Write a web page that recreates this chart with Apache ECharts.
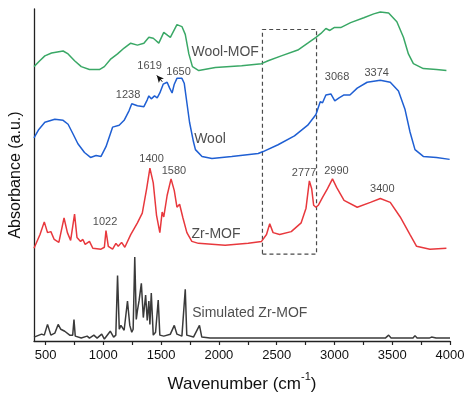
<!DOCTYPE html>
<html>
<head>
<meta charset="utf-8">
<script src="https://cdn.jsdelivr.net/npm/echarts@6/dist/echarts.min.js"></script>
<style>
  html, body { margin:0; padding:0; background:#fff; }
  #chart { width:473px; height:398px; }
</style>
</head>
<body>
<div id="chart"></div>
<script>
// spectra, stacked with offsets (wavenumber, absorbance a.u.)
const woolMof = [[400,281],[409,282],[450,287],[494,292],[552,295],[652,297],[695,294],[751,287],[809,281],[880,278],[966,278],[1009,281],[1066,289],[1123,294],[1180,300],[1237,305],[1295,303],[1351,305],[1394,311],[1432,310],[1452,308],[1480,305],[1523,316],[1557,313],[1580,311],[1637,324],[1680,322],[1709,314],[1740,294],[1771,281],[1826,277],[1969,280],[2197,282],[2369,284],[2426,287],[2540,292],[2683,298],[2769,305],[2840,311],[2883,315],[2926,320],[2960,318],[2997,321],[3054,321],[3140,326],[3254,331],[3340,335],[3397,337],[3469,336],[3540,327],[3597,311],[3640,294],[3683,284],[3769,279],[3883,278],[3969,277]];
const wool = [[400,208],[409,209],[438,216],[494,224],[580,227],[652,226],[695,222],[738,212],[780,202],[837,193],[889,188],[937,190],[980,189],[1023,199],[1080,219],[1137,221],[1180,226],[1223,236],[1246,243],[1295,241],[1351,240],[1380,247],[1394,251],[1415,248],[1443,251],[1466,249],[1489,254],[1518,263],[1552,265],[1574,259],[1595,254],[1614,263],[1637,269],[1680,269],[1700,264],[1723,244],[1746,224],[1780,204],[1797,196],[1854,189],[1940,187],[2111,189],[2340,192],[2383,194],[2512,201],[2654,210],[2769,221],[2840,232],[2877,245],[2897,244],[2926,252],[2969,253],[3003,246],[3040,249],[3083,252],[3134,252],[3197,259],[3283,265],[3397,267],[3483,265],[3554,256],[3611,237],[3654,214],[3697,196],[3769,189],[3883,188],[3997,186]];
const zrMof = [[400,95],[409,96],[452,109],[489,122],[517,111],[546,112],[575,104],[615,101],[660,126],[689,111],[717,103],[751,130],[772,106],[803,102],[823,104],[843,99],[880,102],[909,95],[980,94],[1009,96],[1023,113],[1043,97],[1080,94],[1109,100],[1129,97],[1158,101],[1186,96],[1237,109],[1295,121],[1337,131],[1375,156],[1403,177],[1432,162],[1460,129],[1489,111],[1509,132],[1523,127],[1552,149],[1586,166],[1614,154],[1637,137],[1660,140],[1689,126],[1723,111],[1766,102],[1823,100],[2054,98],[2254,100],[2369,102],[2412,109],[2440,120],[2469,111],[2526,109],[2626,112],[2712,121],[2754,136],[2783,164],[2803,156],[2820,139],[2840,137],[2860,139],[2897,147],[2940,156],[2983,166],[3020,157],[3083,144],[3197,137],[3311,142],[3397,146],[3483,142],[3569,127],[3654,109],[3711,97],[3826,94],[3969,95]];
const simulated = [[400,4],[409,4],[466,7],[489,6],[517,17],[546,6],[580,8],[609,17],[632,12],[666,10],[709,6],[735,6],[746,22],[757,5],[766,6],[809,3],[860,5],[880,3],[918,6],[946,3],[986,7],[1009,2],[1060,10],[1089,4],[1108,6],[1123,67],[1138,12],[1152,16],[1180,11],[1209,41],[1229,16],[1246,9],[1258,12],[1272,86],[1285,22],[1295,31],[1309,41],[1329,59],[1346,24],[1366,47],[1380,21],[1394,41],[1403,17],[1415,49],[1432,6],[1452,9],[1475,42],[1489,6],[1523,5],[1580,7],[1614,16],[1637,7],[1680,5],[1695,7],[1709,53],[1722,6],[1780,4],[1832,16],[1852,4],[1923,3],[2500,3],[3440,3],[3469,6],[3490,3],[3680,3],[3697,5.5],[3715,3],[3820,3],[3840,4],[3860,3.5],[3880,3],[4000,3]];

const seriesNames = ['Wool-MOF','Wool','Zr-MOF','Simulated Zr-MOF'];
const nameSpots = [[1763,296],[1786,207],[1763,109],[1769,29]];
const peakTexts = ['1619','1650','1238','3068','3374','1400','1580','1022','2777','2990','3400'];
const peakSpots = [[1400,282],[1651,276],[1214,252],[3023,270],[3366,274],[1417,186],[1611,174],[1015,122],[2737,172],[3017,174],[3414,156]];
const tickValues = [500,750,1000,1250,1500,1750,2000,2250,2500,2750,3000,3250,3500,3750,4000];
const labelValues = [500,1000,1500,2000,2500,3000,3500,4000];
const boxCorners = [[2377,89],[2845,319]];
const arrowEnds = [[1510,265.5],[1463,272]];

const font = "'Liberation Sans', Arial, sans-serif";
const colors = ['#3aa866','#1f5fd3','#e8383d','#3a3a3a'];

const chart = echarts.init(document.getElementById('chart'));

const lineOf = (name, data, color) => ({
    type:'line',
    name:name,
    data:data,
    symbol:'none',
    silent:true,
    lineStyle:{ color:color, width:1.5 },
    z:3
});

const seriesData = [
    lineOf('Wool-MOF', woolMof, colors[0]),
    lineOf('Wool', wool, colors[1]),
    lineOf('Zr-MOF', zrMof, colors[2]),
    lineOf('Simulated Zr-MOF', simulated, colors[3])
];
// 1619 arrow
seriesData[1].markLine = {
    silent:true,
    symbol:['none','arrow'],
    symbolSize:[5,7],
    label:{ show:false },
    lineStyle:{ color:'#111', width:1, type:'solid' },
    data:[[ { coord:arrowEnds[0] }, { coord:arrowEnds[1] } ]]
};
// dashed box
seriesData[2].markArea = {
    silent:true,
    itemStyle:{ color:'rgba(0,0,0,0)', borderColor:'#4a4a4a', borderWidth:1.2, borderType:[4,3] },
    data:[[ { coord:boxCorners[0] }, { coord:boxCorners[1] } ]]
};
seriesData.push({
    type:'scatter',
    silent:true,
    symbolSize:0,
    data:nameSpots.map((p,i)=>({ value:p, name:seriesNames[i] })),
    label:{ show:true, position:'right', distance:0, formatter:'{b}', color:'#222', fontSize:14, fontFamily:font },
    z:5
});
seriesData.push({
    type:'scatter',
    silent:true,
    symbolSize:0,
    data:peakSpots.map((p,i)=>({ value:p, name:peakTexts[i] })),
    label:{ show:true, position:'inside', formatter:'{b}', color:'#222', fontSize:11, fontFamily:font },
    z:5
});

const option = {
    animation:false,
    grid:{ left:30, right:23, top:9, bottom:49 },
    xAxis:{
        type:'value',
        min:400,
        max:4000,
        name:'{a|Wavenumber (cm}{s|-1}{a|)}',
        nameLocation:'middle',
        nameGap:30,
        nameTextStyle:{
            rich:{
                a:{ fontSize:17, fontFamily:font, color:'#111', lineHeight:22, verticalAlign:'bottom' },
                s:{ fontSize:11, fontFamily:font, color:'#111', lineHeight:22, verticalAlign:'top' }
            }
        },
        axisLine:{ onZero:false, lineStyle:{ color:'#222', width:1.3 } },
        axisTick:{ show:true, length:4, customValues:tickValues, lineStyle:{ color:'#222', width:1.2 } },
        axisLabel:{ customValues:labelValues, margin:8, fontSize:13, fontFamily:font, color:'#111', formatter:v=>String(v) },
        splitLine:{ show:false }
    },
    yAxis:{
        type:'value',
        min:0,
        max:340,
        name:'Absorbance (a.u.)',
        nameLocation:'middle',
        nameGap:10,
        nameTextStyle:{ fontSize:16, fontFamily:font, color:'#111' },
        axisLine:{ show:true, onZero:false, lineStyle:{ color:'#222', width:1.3 } },
        axisTick:{ show:false },
        axisLabel:{ show:false },
        splitLine:{ show:false }
    },
    series:seriesData
};
chart.setOption(option);
</script>
</body>
</html>
